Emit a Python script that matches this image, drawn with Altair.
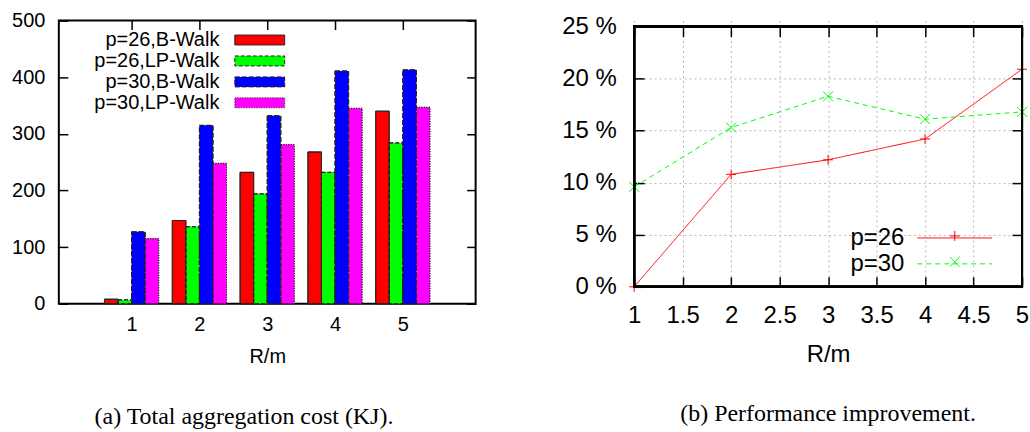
import json
import altair as alt
import pandas as pd

# ---------------- data ----------------
R = [1, 2, 3, 4, 5]
series_names = ["p=26,B-Walk", "p=26,LP-Walk", "p=30,B-Walk", "p=30,LP-Walk"]
b_walk_26 = [8, 147, 232, 268, 340]
lp_walk_26 = [7, 136, 194, 232, 284]
b_walk_30 = [127, 315, 332, 411, 413]
lp_walk_30 = [115, 248, 281, 345, 347]
bar_colors = ["#ff0000", "#00ff00", "#0000ff", "#ff00ff"]
bar_dashes = [[1, 0], [4, 2], [5, 2], [1, 1.5]]
left_y_ticks = [0, 100, 200, 300, 400, 500]

x_line = [1, 2, 3, 4, 5]
line_names = ["p=26", "p=30"]
p26 = [0.0, 10.8, 12.2, 14.2, 20.9]
p30 = [9.6, 15.3, 18.3, 16.1, 16.8]
line_colors = ["#ff0000", "#00ff00"]
line_dashes = [[1, 0], [5, 4]]
right_x_ticks = [1, 1.5, 2, 2.5, 3, 3.5, 4, 4.5, 5]
right_y_ticks = [0, 5, 10, 15, 20, 25]

caption_a = "(a) Total aggregation cost (KJ)."
caption_b = "(b) Performance improvement."

bar_rows = []
for name, vals in zip(series_names, [b_walk_26, lp_walk_26, b_walk_30, lp_walk_30]):
    for r, v in zip(R, vals):
        bar_rows.append({"R": r, "series": name, "value": v})
bars_df = pd.DataFrame(bar_rows)

line_rows = []
for name, vals in zip(line_names, [p26, p30]):
    for x, v in zip(x_line, vals):
        line_rows.append({"x": x, "series": name, "series_m": name, "value": v})
lines_df = pd.DataFrame(line_rows)

FONT = "Liberation Sans"
SERIF = "Liberation Serif"

# ---------------- left chart ----------------
T1 = 9
idx_expr = "indexof(%s, datum.series)" % json.dumps(series_names)
bar_base = alt.Chart(bars_df).transform_calculate(
    x0="datum.R + 0.2 * %s - 0.4" % idx_expr,
    x1="datum.R + 0.2 * %s - 0.2" % idx_expr,
)

legend_left = dict(
    title=None, orient="none", legendX=191, legendY=9, padding=0,
    symbolType="M-2.5,-0.5H2.5V0.5H-2.5Z", symbolSize=400,
    symbolStrokeWidth=1, rowPadding=0,
    labelAlign="right", labelOffset={"expr": "-51"}, labelFontSize=20, labelFont=FONT,
    labelColor="black", labelLimit=400,
)

x_scale_left = alt.Scale(domain=[0, 6], nice=False, zero=False)
y_scale_left = alt.Scale(domain=[0, 500], nice=False)

bars = bar_base.mark_bar(stroke="#222", strokeWidth=1, orient="vertical").encode(
    x=alt.X("x0:Q", scale=x_scale_left,
            axis=alt.Axis(orient="bottom", values=R, format="d", title="R/m",
                          offset=-T1, tickSize=T1, domain=False, grid=False,
                          labelFlush=False, labelPadding=11, labelFontSize=20,
                          titleFontSize=20, titlePadding=12)),
    x2="x1:Q",
    y=alt.Y("value:Q", scale=y_scale_left,
            axis=alt.Axis(orient="left", values=left_y_ticks, title=None,
                          offset=-T1, tickSize=T1, domain=False, grid=False,
                          labelPadding=14, labelFontSize=20)),
    y2=alt.datum(0),
    fill=alt.Fill("series:N", scale=alt.Scale(domain=series_names, range=bar_colors),
                  legend=alt.Legend(**legend_left)),
    strokeDash=alt.StrokeDash("series:N", scale=alt.Scale(domain=series_names, range=bar_dashes),
                              legend=alt.Legend(**legend_left)),
)

outlines = bar_base.mark_bar(fill="transparent", stroke="#222", strokeWidth=1,
                             orient="vertical").encode(
    x=alt.X("x0:Q",
            axis=alt.Axis(orient="top", values=R, labels=False, title=None,
                          offset=-T1, tickSize=T1, domain=False, grid=False)),
    x2="x1:Q",
    y=alt.Y("value:Q",
            axis=alt.Axis(orient="right", values=left_y_ticks, labels=False, title=None,
                          offset=-T1, tickSize=T1, domain=False, grid=False)),
    y2=alt.datum(0),
    strokeDash=alt.StrokeDash("series:N", legend=None),
)

left = alt.layer(bars, outlines).resolve_axis(x="independent", y="independent").properties(
    width=418, height=284,
    title=alt.TitleParams(caption_a, orient="bottom", font=SERIF, fontSize=24,
                          fontWeight="normal", color="black", anchor="middle",
                          frame="bounds", offset=39),
)

# ---------------- right chart ----------------
T2 = 10
TOP_GAP = 6          # the right panel's frame starts a little lower than the left one
H2 = 261
x_scale_right = alt.Scale(domain=[1, 5], nice=False, zero=False)
y_scale_right = alt.Scale(domain=[0, 25], nice=False, range=[H2 + TOP_GAP, TOP_GAP])

line_legend = dict(title=None, orient="none", legendX=309.5, legendY=206,
                   padding=0, symbolType="M-3.75,0H3.75", symbolSize=400,
                   symbolStrokeWidth=1, rowPadding=2,
                   labelAlign="right", labelOffset={"expr": "-62.5"}, labelFontSize=24,
                   labelFont=FONT, labelColor="black", labelLimit=400)

lines = alt.Chart(lines_df).mark_line(strokeWidth=1).encode(
    x=alt.X("x:Q", scale=x_scale_right,
            axis=alt.Axis(orient="bottom", values=right_x_ticks, format="~g", title="R/m",
                          offset=-T2, tickSize=T2, domain=False, grid=True,
                          gridColor="#b8b8b8", gridDash=[2, 3], gridWidth=1,
                          labelFlush=False, labelPadding=17, labelFontSize=24,
                          titleFontSize=24, titlePadding=15)),
    y=alt.Y("value:Q", scale=y_scale_right,
            axis=alt.Axis(orient="left", values=right_y_ticks,
                          labelExpr="datum.value + ' %'", title=None,
                          offset=-T2, tickSize=T2, domain=False, grid=True,
                          gridColor="#b8b8b8", gridDash=[2, 3], gridWidth=1,
                          labelPadding=18, labelFontSize=24)),
    stroke=alt.Stroke("series:N", scale=alt.Scale(domain=line_names, range=line_colors),
                      legend=alt.Legend(**line_legend)),
    strokeDash=alt.StrokeDash("series:N", scale=alt.Scale(domain=line_names, range=line_dashes),
                              legend=alt.Legend(**line_legend)),
)

plus_path = "M-1,0H1M0,-1V1"
x_path = "M-1,-1L1,1M-1,1L1,-1"
marker_legend = dict(title=None, orient="none", legendX=316, legendY=203, padding=0,
                     symbolSize=100, symbolStrokeWidth=1, clipHeight=26, rowPadding=0,
                     labelExpr="''", labelFontSize=1)

points = alt.Chart(lines_df).mark_point(filled=False, size=100, strokeWidth=1, opacity=1).encode(
    x=alt.X("x:Q",
            axis=alt.Axis(orient="top", values=right_x_ticks, labels=False, title=None,
                          offset=-(T2 + TOP_GAP), tickSize=T2, domain=False, grid=False)),
    y=alt.Y("value:Q",
            axis=alt.Axis(orient="right", values=right_y_ticks, labels=False, title=None,
                          offset=-T2, tickSize=T2, domain=False, grid=False)),
    color=alt.Color("series_m:N", scale=alt.Scale(range=line_colors),
                    legend=alt.Legend(**marker_legend)),
    shape=alt.Shape("series_m:N", scale=alt.Scale(range=[plus_path, x_path]),
                    legend=alt.Legend(**marker_legend)),
)

# plot frame of the right panel, drawn on the scale's full domain
frame = alt.Chart(lines_df).mark_rect(fill="transparent", stroke="black", strokeWidth=2).encode(
    x=alt.X(datum=1, axis=None), x2=alt.X2(datum=5),
    y=alt.Y(datum=0, axis=None), y2=alt.Y2(datum=25),
)

right = alt.layer(lines, points, frame).resolve_axis(
    x="independent", y="independent"
).properties(
    width=389, height=H2 + TOP_GAP,
    view=alt.ViewConfig(stroke="transparent"),
    title=alt.TitleParams(caption_b, orient="bottom", font=SERIF, fontSize=24,
                          fontWeight="normal", color="black", anchor="middle",
                          frame="group", offset=36),
)

chart = alt.concat(left, right, columns=2, spacing=83, align="none").resolve_scale(
    fill="independent", stroke="independent", strokeDash="independent",
    color="independent", shape="independent",
).resolve_legend(
    fill="independent", stroke="independent", strokeDash="independent",
    color="independent", shape="independent",
).properties(
    padding={"left": 10, "top": 9, "right": 0, "bottom": 2}
).configure_view(
    stroke="black", strokeWidth=2
).configure_axis(
    labelFont=FONT, titleFont=FONT, labelColor="black", titleColor="black",
    tickColor="black", tickWidth=1.5, titleFontWeight="normal",
).configure_legend(
    labelFont=FONT
)

chart.save("out.html", embed_options={"renderer": "svg", "actions": False})
